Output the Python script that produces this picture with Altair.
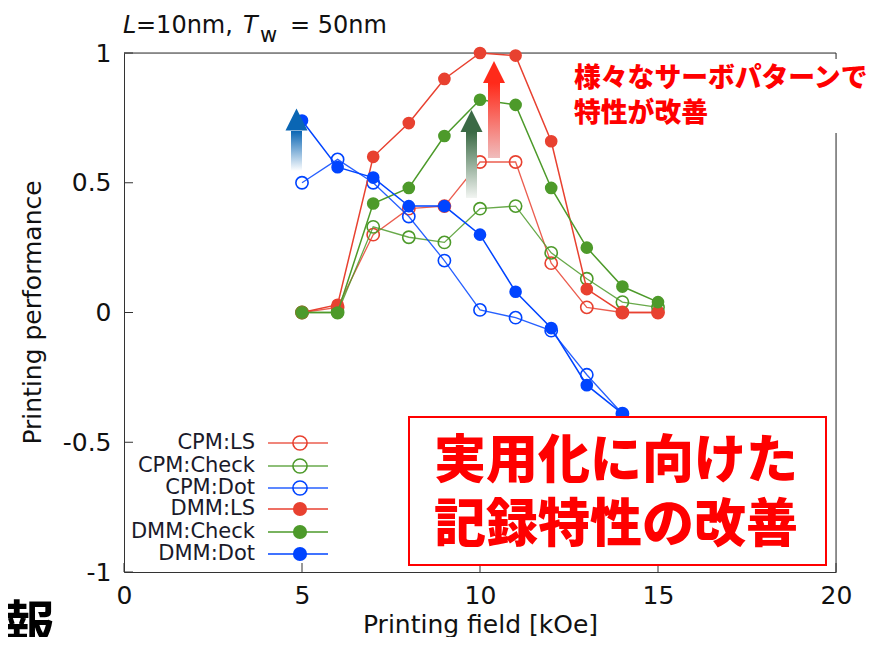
import altair as alt
import pandas as pd

# ---------------- data ----------------
x_main = [5, 6, 7, 8, 9, 10, 11, 12, 13, 14, 15]
x_dot = [5, 6, 7, 8, 9, 10, 11, 12, 13, 14]

cpm_ls = [0.00, 0.02, 0.30, 0.40, 0.41, 0.58, 0.58, 0.19, 0.02, 0.00, 0.00]
cpm_check = [0.00, 0.00, 0.33, 0.29, 0.27, 0.40, 0.41, 0.23, 0.13, 0.04, 0.02]
cpm_dot = [0.50, 0.59, 0.50, 0.37, 0.20, 0.01, -0.02, -0.07, -0.24, -0.39]
dmm_ls = [0.00, 0.03, 0.60, 0.73, 0.90, 1.00, 0.99, 0.66, 0.09, 0.00, 0.00]
dmm_check = [0.00, 0.00, 0.42, 0.48, 0.68, 0.82, 0.80, 0.48, 0.25, 0.10, 0.04]
dmm_dot = [0.74, 0.56, 0.52, 0.41, 0.41, 0.30, 0.08, -0.06, -0.28, -0.39]

x_ticks = [0, 5, 10, 15, 20]
y_ticks = [-1, -0.5, 0, 0.5, 1]

legend_labels = ["CPM:LS", "CPM:Check", "CPM:Dot", "DMM:LS", "DMM:Check", "DMM:Dot"]

RED = "#e84130"
GREEN = "#4d9a2a"
BLUE = "#0044ff"

series = [
    ("CPM:LS", x_main, cpm_ls, RED, False),
    ("CPM:Check", x_main, cpm_check, GREEN, False),
    ("CPM:Dot", x_dot, cpm_dot, BLUE, False),
    ("DMM:LS", x_main, dmm_ls, RED, True),
    ("DMM:Check", x_main, dmm_check, GREEN, True),
    ("DMM:Dot", x_dot, dmm_dot, BLUE, True),
]

W, H = 712, 519
FONT = "DejaVu Sans"
JP = "Noto Sans CJK JP"

xs = alt.Scale(domain=[0, 20], nice=False, zero=False)
ys = alt.Scale(domain=[-1, 1], nice=False, zero=False)

xaxis = alt.Axis(values=x_ticks, ticks=False, tickSize=0, grid=False, labelFlush=False,
                 labelPadding=31, labelBaseline="alphabetic", labelFont=FONT,
                 labelFontSize=25, labelColor="#111", domainColor="#333",
                 labelExpr="'' + datum.value",
                 title="Printing field [kOe]", titleFont=FONT, titleFontSize=25,
                 titleFontWeight="normal", titleColor="#111", titleX=356, titleY=60,
                 titleBaseline="alphabetic", titleAlign="center")
yaxis = alt.Axis(values=y_ticks, ticks=False, tickSize=0, grid=False, labelFlush=False,
                 labelPadding=13, labelFont=FONT, labelFontSize=25, labelColor="#111",
                 labelExpr="'' + datum.value",
                 domainColor="#333", title="Printing performance", titleFont=FONT,
                 titleFontSize=25, titleFontWeight="normal", titleColor="#111",
                 titleX=-84, titleY=259, titleAngle=270, titleBaseline="alphabetic",
                 titleAlign="center")

X = alt.X("x:Q", scale=xs, axis=xaxis)
Y = alt.Y("y:Q", scale=ys, axis=yaxis)

layers = []

# frame (top & right)
layers.append(alt.Chart().mark_rule(color="#333", strokeWidth=1).encode(
    x=alt.value(0), x2=alt.value(W), y=alt.value(0)))
layers.append(alt.Chart().mark_rule(color="#333", strokeWidth=1).encode(
    x=alt.value(W), y=alt.value(0), y2=alt.value(H)))

# inward ticks
layers.append(alt.Chart(pd.DataFrame({"x": x_ticks})).mark_rule(color="#333").encode(
    x=X, y=alt.value(H - 9), y2=alt.value(H)))
layers.append(alt.Chart(pd.DataFrame({"y": y_ticks})).mark_rule(color="#333").encode(
    y=Y, x=alt.value(0), x2=alt.value(9)))

# data series
for name, xv, yv, col, filled in series:
    df = pd.DataFrame({"x": xv, "y": yv})
    base = alt.Chart(df).encode(x=X, y=Y)
    if filled:
        layers.append(base.mark_line(color=col, strokeWidth=1.5))
        layers.append(base.mark_point(shape="circle", filled=True, color=col,
                                      size=160, opacity=1))
    else:
        layers.append(base.mark_line(color=col, strokeWidth=1.3, opacity=0.85))
        layers.append(base.mark_point(shape="circle", filled=False, color=col,
                                      size=150, strokeWidth=1.6, opacity=1))

# legend
leg_y = [390, 413, 435, 456, 479, 501]
for i, (name, xv, yv, col, filled) in enumerate(series):
    py = leg_y[i]
    layers.append(alt.Chart().mark_text(text=legend_labels[i], font=FONT, fontSize=21,
                                        align="right", baseline="middle", color="#1a1a2a").encode(
        x=alt.value(131), y=alt.value(py)))
    layers.append(alt.Chart().mark_rule(color=col, strokeWidth=1.5,
                                        opacity=1 if filled else 0.85).encode(
        x=alt.value(144), x2=alt.value(204), y=alt.value(py)))
    layers.append(alt.Chart().mark_point(shape="circle", filled=filled, color=col,
                                         size=200, strokeWidth=1.6, opacity=1).encode(
        x=alt.value(176), y=alt.value(py)))

# arrows
def arrow(x0, x1, y_top, y_bot, hx, hy, hsize, top_col, bot_col, head_col):
    grad = alt.Gradient(gradient="linear", x1=0, y1=0, x2=0, y2=1,
                        stops=[alt.GradientStop(color=top_col, offset=0),
                               alt.GradientStop(color=bot_col, offset=1)])
    shaft = alt.Chart().mark_rect(fill=grad, strokeWidth=0).encode(
        x=alt.value(x0), x2=alt.value(x1), y=alt.value(y_top), y2=alt.value(y_bot))
    head = alt.Chart().mark_point(shape="M -1 1 L 0 -1 L 1 1 Z", filled=True,
                                  color=head_col, size=hsize, opacity=1).encode(
        x=alt.value(hx), y=alt.value(hy))
    return [shaft, head]

layers += arrow(167, 178, 78, 118, 172.5, 66.5, 484, "#0a66b4", "#ffffff", "#0a66b4")
layers += arrow(342, 353, 79, 145, 347.5, 68, 484, "#3b6a45", "#f2f5f2", "#3b6a45")
layers += arrow(364, 376, 30, 105, 370, 19, 484, "#ff2a1a", "#f0bcbc", "#ff2a1a")

# top-right annotation with white background
layers.append(alt.Chart().mark_rect(fill="white", strokeWidth=0).encode(
    x=alt.value(444), x2=alt.value(760), y=alt.value(6), y2=alt.value(80)))
layers.append(alt.Chart().mark_text(text="様々なサーボパターンで", font=JP, fontSize=26.8,
                                    fontWeight=900, color="#ff0000", align="left",
                                    baseline="middle").encode(
    x=alt.value(450), y=alt.value(26)))
layers.append(alt.Chart().mark_text(text="特性が改善", font=JP, fontSize=26.8,
                                    fontWeight=900, color="#ff0000", align="left",
                                    baseline="middle").encode(
    x=alt.value(450), y=alt.value(61)))

# boxed annotation
layers.append(alt.Chart().mark_rect(fill="white", stroke="#ff0000", strokeWidth=2).encode(
    x=alt.value(285), x2=alt.value(702), y=alt.value(364), y2=alt.value(512)))
layers.append(alt.Chart().mark_text(text="実用化に向けた", font=JP, fontSize=52,
                                    fontWeight=900, color="#ff0000", align="center",
                                    baseline="middle").encode(
    x=alt.value(492), y=alt.value(409)))
layers.append(alt.Chart().mark_text(text="記録特性の改善", font=JP, fontSize=52,
                                    fontWeight=900, color="#ff0000", align="center",
                                    baseline="middle").encode(
    x=alt.value(492), y=alt.value(473)))

# title
def txt(s, x, y, size=24, style="normal"):
    return alt.Chart().mark_text(text=s, font=FONT, fontSize=size, fontStyle=style,
                                 color="#111", align="left", baseline="alphabetic").encode(
        x=alt.value(x), y=alt.value(y))

layers.append(txt("L", -1, -20, style="italic"))
layers.append(txt("=10nm,", 12, -20))
layers.append(txt("T", 119, -20, style="italic"))
layers.append(txt("w", 136, -11, size=21))
layers.append(txt("= 50nm", 166, -20))

# cut-off text at bottom-left
layers.append(alt.Chart().mark_text(text="情報", font=JP, fontSize=52, fontWeight="bold",
                                    color="#000", align="right", baseline="middle").encode(
    x=alt.value(-69), y=alt.value(575)))

chart = alt.layer(*layers).properties(
    width=W, height=H,
    padding={"left": 116, "top": 45, "right": 32, "bottom": 65},
    autosize=alt.AutoSizeParams(type="none"),
).configure_view(stroke=None).configure(background="white")

chart.save("out.html", embed_options={"renderer": "svg", "actions": False})
